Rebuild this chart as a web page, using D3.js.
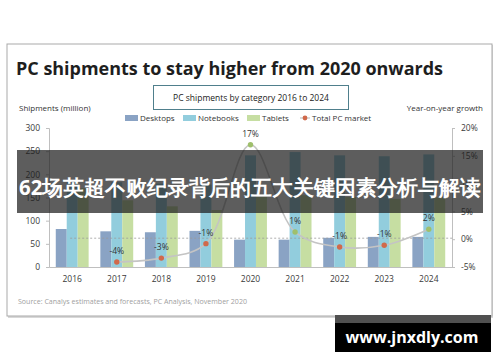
<!DOCTYPE html>
<html lang="en">
  <head>
    <meta charset="UTF-8" />
    <title>PC shipments</title>
    <style>
      html, body { margin: 0; padding: 0; background: #fff; }
      #chart { width: 500px; height: 362px; }
      text { font-family: "Open Sans", "DejaVu Sans", sans-serif; }
    </style>
    <script src="https://cdn.jsdelivr.net/npm/d3@7"></script>
  </head>
  <body>
    <div id="chart"></div>
    <script>
      // values
      const years = ["2016", "2017", "2018", "2019", "2020", "2021", "2022", "2023", "2024"];
      const desktops = [82, 77, 75, 78, 59, 59, 63, 65, 65];
      const notebooks = [186, 183, 180, 178, 241, 248, 241, 239, 243];
      const tablets = [170, 144, 131, 123, 152, 155, 151, 147, 150];
      const growth = [null, -4.1, -3.4, -0.8, 17.0, 1.3, -1.4, -1.1, 1.8];
      const leftTicks = [0, 50, 100, 150, 200, 250, 300];
      const rightTicks = [-5, 0, 5, 10, 15, 20];

      const seriesNames = ["Desktops", "Notebooks", "Tablets"];
      const seriesColors = { Desktops: "#8aa3c4", Notebooks: "#92cddd", Tablets: "#c6dea2" };
      const W = 500, H = 362;
      const plotL = 49, plotR = 452, plotT = 128, plotB = 267;

      const svg = d3.select("#chart").append("svg").attr("width", W).attr("height", H);

      // card
      svg.append("rect").attr("x", 8).attr("y", 45).attr("width", 485).attr("height", 273)
        .attr("fill", "#d8d8d8");
      svg.append("rect").attr("x", 7).attr("y", 44).attr("width", 485).attr("height", 272)
        .attr("fill", "#fff").attr("stroke", "#a9a9a9").attr("stroke-width", 1);

      svg.append("text").attr("x", 16).attr("y", 75)
        .attr("font-size", 18).attr("font-weight", 700).attr("fill", "#1e1e1e")
        .attr("textLength", 427).attr("lengthAdjust", "spacingAndGlyphs")
        .text("PC shipments to stay higher from 2020 onwards");

      svg.append("rect").attr("x", 153.5).attr("y", 85.5).attr("width", 195).attr("height", 24)
        .attr("fill", "#fff").attr("stroke", "#4f7f8c").attr("stroke-width", 1);
      svg.append("text").attr("x", 251).attr("y", 101).attr("text-anchor", "middle")
        .attr("font-size", 8.5).attr("fill", "#222").text("PC shipments by category 2016 to 2024");

      svg.append("text").attr("x", 19).attr("y", 111).attr("font-size", 8).attr("fill", "#333")
        .text("Shipments (million)");
      svg.append("text").attr("x", 483).attr("y", 111).attr("text-anchor", "end")
        .attr("font-size", 8).attr("fill", "#333").text("Year-on-year growth");

      // legend
      const legend = svg.append("g").attr("transform", "translate(125,118)");
      const legendX = [0, 58, 122, 175];
      seriesNames.forEach((name, i) => {
        const g = legend.append("g").attr("transform", `translate(${legendX[i]},0)`);
        g.append("rect").attr("x", 0).attr("y", -3).attr("width", 13).attr("height", 6)
          .attr("fill", seriesColors[name]);
        g.append("text").attr("x", 15).attr("y", 3).attr("font-size", 8).attr("fill", "#333").text(name);
      });
      const lg = legend.append("g").attr("transform", `translate(${legendX[3]},0)`);
      lg.append("line").attr("x1", 0).attr("x2", 10).attr("stroke", "#c9c9c9").attr("stroke-width", 1.3);
      lg.append("circle").attr("cx", 5).attr("r", 2.4).attr("fill", "#d0694b");
      lg.append("text").attr("x", 12).attr("y", 3).attr("font-size", 8).attr("fill", "#333").text("Total PC market");

      // scales
      const x = d3.scaleBand().domain(years).range([plotL, plotR]).paddingInner(0.263).paddingOuter(0.152);
      const xs = d3.scaleBand().domain(seriesNames).range([0, x.bandwidth()]);
      const yL = d3.scaleLinear().domain([0, 300]).range([plotB, plotT]);
      const yR = d3.scaleLinear().domain([-5, 20]).range([plotB, plotT]);

      const rows = years.map((y, i) => ({
        year: y,
        Desktops: desktops[i],
        Notebooks: notebooks[i],
        Tablets: tablets[i],
        growth: growth[i],
      }));

      // bars
      svg.append("g").selectAll("g").data(rows).join("g")
        .attr("transform", d => `translate(${x(d.year)},0)`)
        .selectAll("rect")
        .data(d => seriesNames.map(k => ({ key: k, value: d[k] })))
        .join("rect")
        .attr("x", d => xs(d.key))
        .attr("width", xs.bandwidth())
        .attr("y", d => yL(d.value))
        .attr("height", d => yL(0) - yL(d.value))
        .attr("fill", d => seriesColors[d.key]);

      // axes
      const axL = svg.append("g").attr("transform", `translate(${plotL},0)`)
        .call(d3.axisLeft(yL).tickValues(leftTicks).tickSize(3).tickPadding(6));
      const axR = svg.append("g").attr("transform", `translate(${plotR},0)`)
        .call(d3.axisRight(yR).tickValues(rightTicks).tickSize(3).tickPadding(6)
          .tickFormat(d => d + "%"));
      const axB = svg.append("g").attr("transform", `translate(0,${plotB})`)
        .call(d3.axisBottom(x).tickSize(0).tickPadding(9));
      [axL, axR, axB].forEach(a => {
        a.select(".domain").attr("stroke", "#bfbfbf");
        a.selectAll(".tick line").attr("stroke", "#bfbfbf");
        a.selectAll("text").attr("font-size", 8.5).attr("fill", "#3a3a3a")
          .attr("font-family", "'Open Sans', sans-serif");
      });

      // zero reference line
      svg.append("line").attr("x1", x("2016") + x.bandwidth() / 2 - 2).attr("x2", plotR)
        .attr("y1", yR(0) - 1).attr("y2", yR(0) - 1)
        .attr("stroke", "#9a9a9a").attr("stroke-width", 0.8).attr("stroke-dasharray", "2,2");

      // total PC market line
      const pts = rows.filter(d => d.growth !== null);
      const line = d3.line()
        .x(d => x(d.year) + x.bandwidth() / 2)
        .y(d => yR(d.growth))
        .curve(d3.curveCatmullRom.alpha(0.5));
      svg.append("path").datum(pts).attr("d", line)
        .attr("fill", "none").attr("stroke", "#c4c4c4").attr("stroke-width", 1.6);
      svg.append("g").selectAll("circle").data(pts).join("circle")
        .attr("cx", d => x(d.year) + x.bandwidth() / 2)
        .attr("cy", d => yR(d.growth))
        .attr("r", 2.7)
        .attr("fill", d => d.growth < 0 ? "#d0694b" : "#9fbf6c");
      svg.append("g").selectAll("text").data(pts).join("text")
        .attr("x", d => x(d.year) + x.bandwidth() / 2)
        .attr("y", d => yR(d.growth) - 8)
        .attr("text-anchor", "middle").attr("font-size", 8.5).attr("fill", "#333")
        .text(d => Math.round(d.growth) + "%");

      svg.append("text").attr("x", 18).attr("y", 304).attr("font-size", 7).attr("fill", "#a0a0a0")
        .attr("textLength", 229).attr("lengthAdjust", "spacingAndGlyphs")
        .text("Source: Canalys estimates and forecasts, PC Analysis, November 2020");

      // overlay banner
      svg.append("rect").attr("x", 17).attr("y", 150).attr("width", 466).attr("height", 63)
        .attr("fill", "rgba(30,30,30,0.72)");
      svg.append("text").attr("x", 19).attr("y", 195)
        .attr("font-family", "'Noto Sans CJK SC', sans-serif").attr("font-weight", 700)
        .attr("font-size", 20.5).attr("fill", "#fff")
        .attr("textLength", 462).attr("lengthAdjust", "spacingAndGlyphs")
        .text("62场英超不败纪录背后的五大关键因素分析与解读");

      // site badge
      svg.append("rect").attr("x", 335).attr("y", 315).attr("width", 156).attr("height", 37).attr("fill", "#000");
      svg.append("rect").attr("x", 335).attr("y", 315).attr("width", 156).attr("height", 8).attr("fill", "#505050");
      svg.append("text").attr("x", 412).attr("y", 343).attr("text-anchor", "middle")
        .attr("font-family", "'Open Sans', sans-serif").attr("font-weight", 700)
        .attr("font-size", 16).attr("fill", "#fff").text("www.jnxdly.com");
    </script>
  </body>
</html>
